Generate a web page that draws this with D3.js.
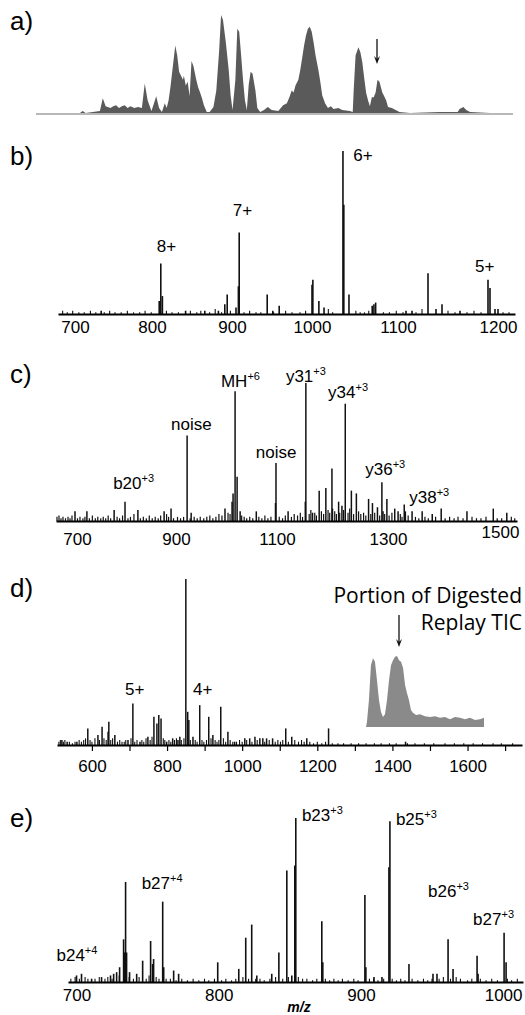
<!DOCTYPE html>
<html>
<head>
<meta charset="utf-8">
<script src="https://cdn.jsdelivr.net/npm/d3@7"></script>
<style>
  body { margin: 0; background: #fff; }
  svg { display: block; font-family: "Liberation Sans", Arial, sans-serif; }
</style>
</head>
<body>
<script>
// a) total ion chromatogram (time in min, % intensity)
var ticTime = [0,4.6,4.9,5.2,6.7,7.0,7.3,7.8,8.1,8.4,8.7,9.0,9.3,9.6,9.9,10.3,10.7,11.1,11.4,11.7,
  12.1,12.3,12.6,12.9,13.2,13.5,13.7,13.9,14.1,14.3,14.6,14.8,15.0,15.2,15.4,15.5,15.7,15.9,16.1,16.3,
  16.5,16.8,17.0,17.2,17.4,17.6,17.9,18.2,18.6,18.9,19.2,19.4,19.6,19.9,20.2,20.4,20.6,20.9,21.1,21.3,
  21.5,21.7,21.9,22.1,22.3,22.5,22.7,23.0,23.2,23.5,23.9,24.3,24.7,25.4,25.9,26.3,26.6,26.8,27.0,27.2,
  27.5,27.7,27.9,28.1,28.3,28.5,28.7,28.9,29.1,29.3,29.6,29.8,30.0,30.3,30.6,30.9,31.2,31.7,32.1,32.9,
  33.2,33.3,33.5,33.8,34.0,34.2,34.4,34.6,34.8,35.0,35.2,35.4,35.6,35.8,36.0,36.3,36.5,36.7,36.9,37.3,
  37.7,38.1,39.2,42.3,44.2,44.4,44.8,45.1,45.5,47.6,50];
var ticInt = [0,0,2,0,2,15,7,5,7,8,5,7,8,5,7,5,6,5,30,13,
  2,8,17,5,1,10,5,13,27,44,69,59,42,38,34,38,28,32,17,53,
  48,34,26,21,15,8,1,1,6,23,64,100,95,72,44,18,3,34,86,83,
  59,34,13,3,29,42,40,23,5,1,3,6,3,2,8,10,17,23,21,28,
  34,44,56,69,79,86,88,83,72,59,44,32,18,10,5,7,4,5,3,2,
  1,23,59,67,62,52,36,21,13,7,16,16,21,34,32,21,17,13,6,5,
  3,1,0,1,1,4,6,3,1,0,0];

// b) full MS spectrum [m/z, %]
var bTicks = [700, 800, 900, 1000, 1100, 1200];
var bPeaks = [[1036,100],[1037,67],[909,50],[908,17],[811,31],[809,8],[813,11],[1190,21],[1192,16],
  [1130,25],[1001,21],[1000,18],[944,12],[894,12],[891,6],[1008,8],[1043,12],[1074,7],
  [1072,6],[1070,5],[1144,6],[959,5],[1014,4],[905,4],[951,2],[883,2],[734,2],[842,2],[866,2],
  [1162,2],[1114,2],[1197,3],[1200,3],[1138,3],[1108,2]];
var bGrass = [[684,2],[690,1],[697,2],[705,1],[712,1],[720,2],[727,1],[738,1],[745,2],[752,1],[760,1],
  [768,2],[776,1],[784,1],[791,2],[799,1],[818,2],[825,1],[833,1],[848,2],[856,1],[861,2],[872,1],
  [879,3],[887,1],[898,2],[915,1],[922,2],[930,1],[936,1],[952,1],[967,2],[975,1],[985,1],[992,2],
  [1019,3],[1024,1],[1051,2],[1056,1],[1061,1],[1066,2],[1083,1],[1090,1],[1098,2],[1105,1],[1118,1],
  [1124,3],[1150,2],[1157,1],[1169,1],[1176,2],[1183,1],[1205,1],[1211,1]];
var bLabels = [['6+','',1048,94],['7+','',901,60],['8+','',806,38],['5+','',1177,26]];

// c) MS/MS spectrum
var cTicks = [700, 900, 1100, 1300, 1500];
var cPeaks = [[1152,100],[1017,94],[1021,32],[1013,20],[1011,14],[1223,85],[922,62],[1098,42],
  [1289,28],[1199,38],[1176,22],[1188,24],[1234,22],[1243,20],[1265,16],[1298,16],[1329,12],[797,14],
  [1211,14],[1217,11],[1200,9],[1395,9],[1488,9],[1441,7],[1512,6],[1361,7],[1379,5],[890,9],[876,7],
  [823,8],[775,8],[720,7],[696,7],[930,6],[997,9],[1027,7],[1059,7],[1097,13],[1120,7],[1151,14],
  [1164,6],[1272,13],[1281,10],[1312,9],[1318,7],[1343,7],[1291,7],[1331,7]];
var cGrass = [[660,3],[664,4],[668,2],[672,3],[677,2],[682,3],[686,2],[690,4],[701,2],[706,3],[712,2],
  [716,3],[725,2],[731,4],[737,2],[742,3],[748,2],[753,3],[758,2],[763,4],[768,2],[781,3],[786,2],
  [792,4],[803,2],[808,3],[815,5],[828,2],[834,3],[840,2],[846,4],[852,2],[858,3],[864,2],[869,4],
  [881,5],[885,3],[895,2],[903,3],[909,2],[915,3],[928,2],[936,3],[942,2],[948,3],[955,2],[961,3],
  [967,4],[973,2],[979,3],[985,5],[991,4],[1003,6],[1007,5],[1030,4],[1035,3],[1040,2],[1046,3],
  [1052,2],[1064,3],[1070,2],[1076,4],[1082,2],[1088,3],[1104,3],[1110,2],[1115,4],[1126,3],[1131,5],
  [1137,4],[1142,6],[1146,3],[1158,5],[1161,8],[1168,6],[1171,4],[1180,7],[1184,5],[1192,8],[1195,6],
  [1204,7],[1207,5],[1213,6],[1220,8],[1228,6],[1231,9],[1238,5],[1247,7],[1251,5],[1256,6],[1260,4],
  [1269,5],[1276,6],[1285,4],[1294,5],[1302,4],[1307,6],[1322,5],[1325,3],[1336,4],[1349,3],[1355,2],
  [1366,3],[1372,2],[1385,3],[1402,2],[1410,3],[1418,2],[1425,3],[1434,2],[1450,3],[1458,2],[1466,2],
  [1475,3],[1495,2],[1503,2],[1520,3],[1526,2]];
var cLabels = [['MH','+6',989,97],['y31','+3',1116,101],['y34','+3',1192,89],['noise','',890,66],
  ['noise','',1058,46],['b20','+3',773,23],['y36','+3',1259,33],['y38','+3',1338,13]];

// d) digested replay spectrum + inset TIC
var dTicks = [600,700,800,900,1000,1100,1200,1300,1400,1500,1600,1700];
var dPeaks = [[850,100],[709,25],[887,24],[943,23],[911,17],[855,20],[858,15],[784,16],[778,18],
  [765,17],[773,13],[645,14],[627,11],[589,10],[616,6],[661,6],[643,8],[962,8],[1230,10],[1116,10],
  [922,6],[869,5],[834,5],[1007,4],[1020,4],[1034,5],[1047,4],[1055,4],[1065,4],[1081,4],[1132,5],
  [1172,4],[1435,2],[520,3],[534,2],[560,2],[696,3],[728,2],[749,5],[799,2],[815,4],[829,3],[980,2]];
var dGrass = [[512,2],[516,3],[524,2],[528,3],[540,2],[548,1],[555,2],[566,3],[572,2],[578,3],[583,4],
  [595,3],[600,2],[608,4],[620,3],[632,4],[638,3],[650,3],[655,4],[668,2],[674,3],[680,2],[686,2],
  [690,3],[704,4],[714,2],[720,3],[733,3],[738,2],[744,4],[755,3],[760,5],[790,4],[794,3],[805,3],
  [810,2],[820,3],[825,4],[838,3],[845,4],[862,3],[875,3],[880,2],[893,3],[898,2],[905,3],[917,4],
  [928,3],[933,2],[938,3],[950,4],[956,2],[968,3],[975,2],[985,2],[993,3],[1000,2],[1012,3],[1026,2],
  [1040,3],[1060,2],[1072,3],[1088,2],[1095,3],[1102,2],[1108,3],[1123,2],[1140,3],[1150,2],[1158,3],
  [1165,2],[1180,2],[1190,1],[1200,2],[1212,1],[1222,2],[1240,1],[1255,1],[1270,1],[1290,1],[1310,1],
  [1330,1],[1352,1],[1370,1],[1392,1],[1410,1],[1440,1],[1460,1],[1485,1],[1510,1],[1540,1],[1565,1],
  [1590,1],[1615,1],[1640,1],[1668,1],[1690,1],[1720,1]];
var dLabels = [['5+','',714,30],['4+','',895,30]];
var insetTime = [0,0.08,0.25,0.42,0.59,0.76,0.93,1.10,1.27,1.44,1.61,1.78,1.95,2.12,2.29,2.46,2.63,
  2.80,2.97,3.14,3.31,3.47,3.64,3.81,3.98,4.24,4.58,5.0,5.42,5.85,6.27,6.69,7.12,7.54,7.97,8.39,8.81,
  9.24,9.66,10,10];
var insetInt = [0,7,38,87,97,92,66,38,21,14,18,38,66,87,94,99,100,94,92,83,59,48,38,24,20,17,18,15,
  14,15,13,14,11,14,13,11,13,10,11,13,0];

// e) fragment spectrum
var eTicks = [700, 800, 900, 1000];
var ePeaks = [[854.2,100],[920.4,98],[847.9,68],[853.5,71],[919.7,70],[734.5,61],[760.6,49],[902.8,53],
  [872.5,37],[823.2,35],[819.0,27],[842.3,18],[1000.7,30],[961.3,26],[981.7,16],[964.8,8],[933.8,11],
  [953.5,5],[733.1,26],[733.8,18],[752.1,25],[753.5,11],[754.2,14],[746.5,13],[730.3,9],[728.2,6],
  [799.3,12],[814.1,8],[768.3,7],[771.8,5],[742.3,5],[737.3,6],[717.6,3],[700,4],[703.5,5],[710.6,2],
  [723.9,4],[726.1,5],[826.8,4],[837.3,5],[851.4,4],[903.5,9],[909.2,3],[914.8,3],[950.7,5],[982.4,5],
  [1002.1,12],[873.2,12],[761.3,9],[735.2,18]];
var eGrass = [[696,2],[699,3],[702,2],[706,3],[708,2],[713,2],[716,3],[720,2],[722,3],[725,2],[730,4],
  [737,3],[740,2],[744,3],[749,2],[751,4],[756,3],[758,2],[763,2],[766,2],[770,1],[774,2],[778,1],
  [782,2],[786,1],[790,2],[793,1],[797,2],[802,1],[805,2],[809,1],[812,2],[817,3],[821,2],[826,2],
  [829,2],[832,1],[836,2],[840,3],[845,2],[849,3],[856,3],[859,2],[862,2],[866,1],[869,2],[875,2],
  [878,1],[881,2],[884,1],[887,2],[891,1],[895,2],[898,1],[906,2],[909,2],[912,1],[916,2],[922,2],
  [925,1],[928,2],[931,1],[936,2],[940,1],[944,2],[947,1],[950,2],[955,2],[958,3],[963,2],[967,3],
  [970,2],[975,1],[978,2],[984,2],[988,1],[992,2],[996,1],[1003,2],[1006,1],[1010,2]];
var eLabels = [['b23','+3',858.5,98],['b25','+3',924.6,96],['b27','+4',745.8,57],['b26','+3',947.2,52],
  ['b27','+3',978.9,35],['b24','+4',685.9,13]];

var svg = d3.select('body').append('svg')
  .attr('width', 525)
  .attr('height', 1015);

// vertical sticks from the baseline
function drawSticks(g, data, x, y, w) {
  g.selectAll(null).data(data).enter().append('line')
    .attr('x1', function(d) { return x(d[0]); })
    .attr('x2', function(d) { return x(d[0]); })
    .attr('y1', y(0))
    .attr('y2', function(d) { return y(d[1]); })
    .attr('stroke', '#111')
    .attr('stroke-width', w);
}

function drawAxis(g, x, y0, ticks, tickLen, pad, fmt) {
  var axis = d3.axisBottom(x).tickValues(ticks).tickSize(tickLen).tickSizeOuter(0).tickPadding(pad)
    .tickFormat(fmt || d3.format('d'));
  var a = g.append('g').attr('transform', 'translate(0,' + y0 + ')').call(axis);
  a.attr('font-family', null).attr('font-size', 17);
  a.select('.domain').attr('stroke', '#000').attr('stroke-width', 2);
  a.selectAll('.tick line').attr('stroke', '#000').attr('stroke-width', 1.2);
  a.selectAll('text').attr('fill', '#000');
  return a;
}

function drawLabels(g, data, x, y, anchor) {
  data.forEach(function(d) {
    var t = g.append('text')
      .attr('x', x(d[2]))
      .attr('y', y(d[3]))
      .attr('font-size', 17)
      .attr('text-anchor', anchor)
      .text(d[0]);
    if (d[1]) t.append('tspan').attr('font-size', 11).attr('dy', -7).text(d[1]);
  });
}

function panelLetter(txt, y) {
  svg.append('text').attr('x', 10).attr('y', y).attr('font-size', 26).text(txt);
}

function arrow(x, y1, y2) {
  svg.append('line').attr('x1', x).attr('x2', x).attr('y1', y1).attr('y2', y2 - 3)
    .attr('stroke', '#111').attr('stroke-width', 1.3);
  svg.append('path')
    .attr('d', 'M' + (x - 3) + ',' + (y2 - 8) + 'L' + x + ',' + y2 + 'L' + (x + 3) + ',' + (y2 - 8) + 'L' + x + ',' + (y2 - 5) + 'Z')
    .attr('fill', '#111');
}

// ---- a) TIC
var xA = d3.scaleLinear([0, 50], [36, 513]);
var yA = d3.scaleLinear([0, 100], [113, 15]);
var gA = svg.append('g');
gA.append('line').attr('x1', xA(0)).attr('x2', xA(50)).attr('y1', yA(0) + 1).attr('y2', yA(0) + 1)
  .attr('stroke', '#a0a0a0').attr('stroke-width', 1.5);
gA.append('path')
  .datum(d3.range(ticTime.length))
  .attr('fill', '#5a5a5a')
  .attr('d', d3.area()
    .x(function(i) { return xA(ticTime[i]); })
    .y0(yA(0))
    .y1(function(i) { return yA(ticInt[i]); }));
arrow(377, 39, 64);
panelLetter('a)', 30);

// ---- b)
var xB = d3.scaleLinear([678, 700, 800, 900, 1000, 1100, 1200, 1217], [58, 75, 152, 232, 312, 398, 498, 515]);
var yB = d3.scaleLinear([0, 100], [314, 151]);
var gB = svg.append('g');
drawSticks(gB, bGrass, xB, yB, 1.1);
drawSticks(gB, bPeaks, xB, yB, 1.6);
drawAxis(gB, xB, yB(0), bTicks, 0, 7);
drawLabels(gB, bLabels, xB, yB, 'start');
panelLetter('b)', 165);

// ---- c)
var xC = d3.scaleLinear([658, 700, 900, 1100, 1300, 1500, 1530], [56, 77, 176, 277, 388, 500, 517]);
var yC = d3.scaleLinear([0, 100], [521, 383]);
var gC = svg.append('g');
drawSticks(gC, cGrass, xC, yC, 1.2);
drawSticks(gC, cPeaks, xC, yC, 1.5);
var axC = drawAxis(gC, xC, yC(0), cTicks, 0, 12);
axC.selectAll('.tick text').filter(function(d) { return d === 1500; }).attr('dy', '0.3em');
drawLabels(gC, cLabels, xC, yC, 'start');
panelLetter('c)', 383);

// ---- d)
var xD = d3.scaleLinear([507, 1745], [57, 522]);
var yD = d3.scaleLinear([0, 100], [745, 579]);
var gD = svg.append('g');
drawSticks(gD, dGrass, xD, yD, 1.1);
drawSticks(gD, dPeaks, xD, yD, 1.5);
drawAxis(gD, xD, yD(0), dTicks, 6, 9, function(v) { return v % 200 === 0 ? v : ''; });
drawLabels(gD, dLabels, xD, yD, 'middle');
panelLetter('d)', 597);

// inset: portion of digested replay TIC
var xI = d3.scaleLinear([0, 10], [366, 484]);
var yI = d3.scaleLinear([0, 100], [727, 656]);
svg.append('path')
  .datum(d3.range(insetTime.length))
  .attr('fill', '#8a8a8a')
  .attr('d', d3.area()
    .x(function(i) { return xI(insetTime[i]); })
    .y0(yI(0))
    .y1(function(i) { return yI(insetInt[i]); }));
svg.append('text').attr('x', 522).attr('y', 603).attr('text-anchor', 'end')
  .attr('font-family', '"Open Sans", sans-serif').attr('font-size', 21).text('Portion of Digested');
svg.append('text').attr('x', 522).attr('y', 630).attr('text-anchor', 'end')
  .attr('font-family', '"Open Sans", sans-serif').attr('font-size', 21).text('Replay TIC');
arrow(399, 615, 647);

// ---- e)
var xE = d3.scaleLinear([694, 1014], [68, 523]);
var yE = d3.scaleLinear([0, 100], [982, 818]);
var gE = svg.append('g');
drawSticks(gE, eGrass, xE, yE, 1.1);
drawSticks(gE, ePeaks, xE, yE, 1.6);
drawAxis(gE, xE, yE(0), eTicks, 0, 7);
drawLabels(gE, eLabels, xE, yE, 'start');
panelLetter('e)', 827);

svg.append('text').attr('x', 299).attr('y', 1012).attr('text-anchor', 'middle')
  .attr('font-size', 14).attr('font-weight', 'bold').attr('font-style', 'italic').text('m/z');
</script>
</body>
</html>
